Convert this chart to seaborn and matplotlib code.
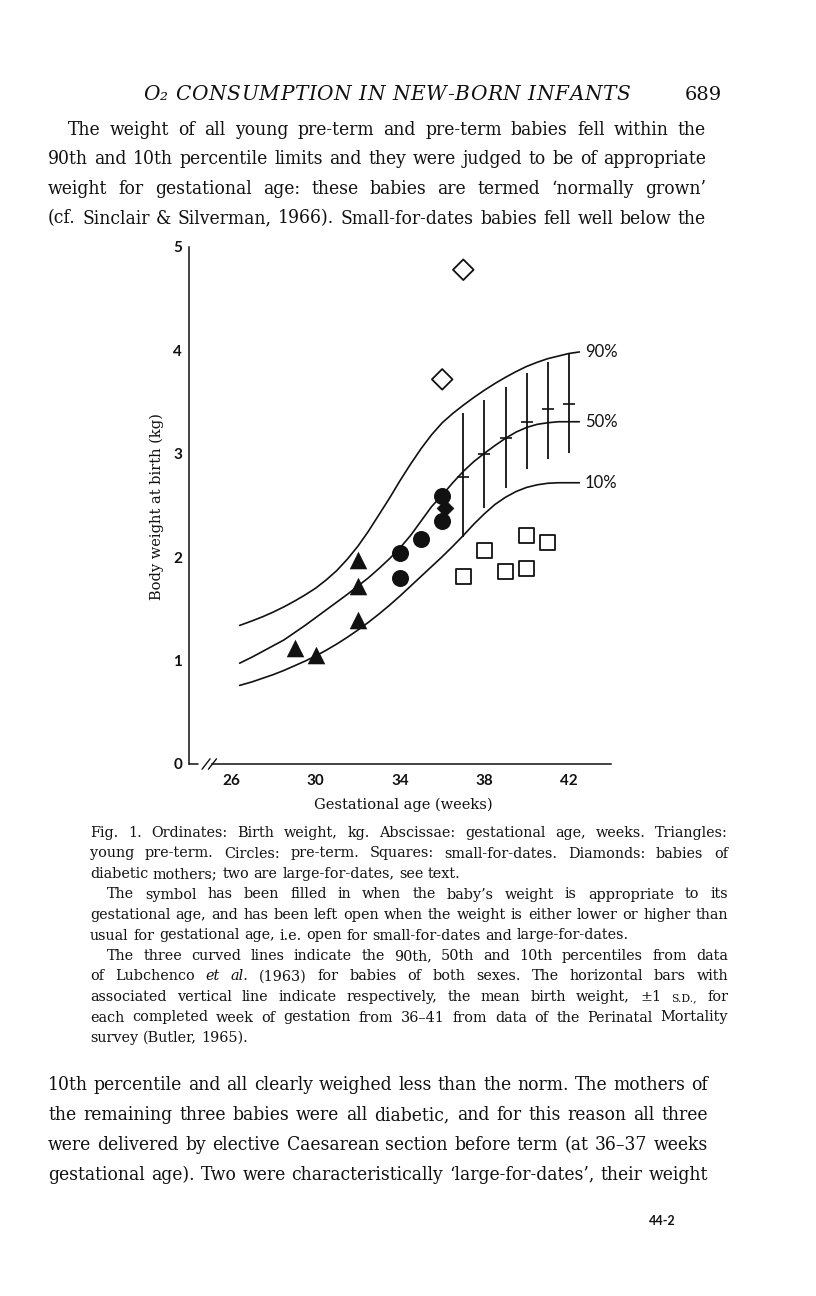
import matplotlib
matplotlib.use("Agg")
import matplotlib.pyplot as plt
import seaborn as sns

# --- data ---------------------------------------------------------------
# percentile curves (Lubchenco et al. 1963)
weeks = [26.4, 27, 27.5, 28, 28.5, 29, 29.5, 30, 30.5, 31, 31.5, 32, 32.5, 33,
         33.5, 34, 34.5, 35, 35.5, 36, 36.5, 37, 37.5, 38, 38.5, 39, 39.5, 40,
         40.5, 41, 41.5, 42, 42.5]
p90 = [1.34, 1.385, 1.425, 1.47, 1.52, 1.575, 1.635, 1.70, 1.78, 1.87, 1.98,
       2.105, 2.25, 2.41, 2.57, 2.74, 2.90, 3.05, 3.185, 3.30, 3.39, 3.47, 3.545,
       3.615, 3.68, 3.74, 3.795, 3.845, 3.885, 3.92, 3.945, 3.97, 3.985]
p50 = [0.975, 1.035, 1.09, 1.145, 1.20, 1.27, 1.34, 1.415, 1.49, 1.565, 1.64,
       1.72, 1.80, 1.89, 1.985, 2.09, 2.21, 2.35, 2.49, 2.60, 2.72, 2.83, 2.925,
       3.005, 3.08, 3.15, 3.21, 3.255, 3.285, 3.30, 3.31, 3.31, 3.31]
p10 = [0.76, 0.795, 0.83, 0.865, 0.905, 0.95, 0.995, 1.045, 1.10, 1.16, 1.225,
       1.295, 1.37, 1.45, 1.535, 1.625, 1.72, 1.815, 1.91, 2.005, 2.105, 2.21,
       2.32, 2.42, 2.51, 2.58, 2.635, 2.675, 2.70, 2.715, 2.72, 2.72, 2.72]
curve_labels = ["90%", "50%", "10%"]

# Perinatal Mortality survey (Butler 1965): mean and +/-1 s.d.
survey_weeks = [37, 38, 39, 40, 41, 42]
survey_mean = [2.78, 3.00, 3.15, 3.31, 3.43, 3.485]
survey_low = [2.20, 2.475, 2.67, 2.85, 2.95, 3.01]
survey_high = [3.39, 3.52, 3.65, 3.78, 3.885, 3.975]

# babies
tri_weeks = [29, 30, 32, 32, 32]            # young pre-term
tri_kg = [1.12, 1.055, 1.975, 1.72, 1.39]
circ_weeks = [34, 34, 35, 36, 36]           # pre-term
circ_kg = [2.04, 1.80, 2.18, 2.59, 2.35]
sq_weeks = [37, 38, 39, 40, 40, 41]         # small-for-dates
sq_kg = [1.81, 2.065, 1.86, 2.21, 1.89, 2.14]
dia_weeks_filled = [36.15]                  # diabetic mothers
dia_kg_filled = [2.475]
dia_weeks_open = [36, 37]
dia_kg_open = [3.72, 4.78]

xticks = list(range(26, 45, 2))
xtick_labels = ["26", "", "30", "", "34", "", "38", "", "42", ""]
yticks = [0, 1, 2, 3, 4, 5]

# --- page text ------------------------------------------------------------
header = "O\u2082 CONSUMPTION IN NEW-BORN INFANTS"
page_no = "689"
body_top = [
    ("The weight of all young pre-term and pre-term babies fell within the", 1, True),
    ("90th and 10th percentile limits and they were judged to be of appropriate", 0, True),
    ("weight for gestational age: these babies are termed \u2018normally grown\u2019", 0, True),
    ("(cf. Sinclair & Silverman, 1966). Small-for-dates babies fell well below the", 0, True),
]
caption = [
    ("Fig. 1. Ordinates: Birth weight, kg. Abscissae: gestational age, weeks. Triangles:", 0, True),
    ("young pre-term. Circles: pre-term. Squares: small-for-dates. Diamonds: babies of", 0, True),
    ("diabetic mothers; two are large-for-dates, see text.", 0, False),
    ("The symbol has been filled in when the baby\u2019s weight is appropriate to its", 1, True),
    ("gestational age, and has been left open when the weight is either lower or higher than", 0, True),
    ("usual for gestational age, i.e. open for small-for-dates and large-for-dates.", 0, False),
    ("The three curved lines indicate the 90th, 50th and 10th percentiles from data", 1, True),
    ("of Lubchenco *et *al. (1963) for babies of both sexes. The horizontal bars with", 0, True),
    ("associated vertical line indicate respectively, the mean birth weight, \u00b11 ^s.d., for", 0, True),
    ("each completed week of gestation from 36\u201341 from data of the Perinatal Mortality", 0, True),
    ("survey (Butler, 1965).", 0, False),
]
body_bottom = [
    ("10th percentile and all clearly weighed less than the norm. The mothers of", 0, True),
    ("the remaining three babies were all diabetic, and for this reason all three", 0, True),
    ("were delivered by elective Caesarean section before term (at 36\u201337 weeks", 0, True),
    ("gestational age). Two were characteristically \u2018large-for-dates\u2019, their weight", 0, True),
]
signature = "44-2"

W, H = 816, 1296
sns.set_theme(style="white")
fig = plt.figure(figsize=(W / 100, H / 100), dpi=100)
fig.patch.set_facecolor("white")
ax = fig.add_axes([189 / W, 1 - 764 / H, 422 / W, 517 / H])
ax.set_facecolor("white")

ink = "#111111"
for ys in (p90, p50, p10):
    sns.lineplot(x=weeks, y=ys, color=ink, lw=1.2, ax=ax, sort=False)
for ys, lab in zip((p90, p50, p10), curve_labels):
    ax.text(42.75, ys[-1], lab, fontsize=12, family="Lato", color=ink, va="center", ha="left")

ax.errorbar(survey_weeks, survey_mean,
            yerr=[[m - lo for m, lo in zip(survey_mean, survey_low)],
                  [hi - m for m, hi in zip(survey_mean, survey_high)]],
            fmt="_", ms=9, mew=1.2, color=ink, elinewidth=1.3, capsize=0)

sns.scatterplot(x=dia_weeks_filled, y=dia_kg_filled, marker="D", s=70, color=ink,
                edgecolor=ink, ax=ax, zorder=3)
sns.scatterplot(x=tri_weeks, y=tri_kg, marker="^", s=160, color=ink, edgecolor=ink,
                linewidth=0, ax=ax, zorder=4)
sns.scatterplot(x=circ_weeks, y=circ_kg, marker="o", s=150, color=ink, edgecolor=ink,
                linewidth=0, ax=ax, zorder=4)
sns.scatterplot(x=sq_weeks, y=sq_kg, marker="s", s=115, facecolor="none",
                edgecolor=ink, linewidth=1.3, ax=ax, zorder=4)
sns.scatterplot(x=dia_weeks_open, y=dia_kg_open, marker="D", s=110, facecolor="none",
                edgecolor=ink, linewidth=1.3, ax=ax, zorder=4)

ax.set_xlim(24, 44)
ax.set_ylim(0, 5)
ax.set_xticks(xticks)
ax.set_xticklabels(xtick_labels)
ax.set_yticks(yticks)
ax.set_yticklabels([str(v) for v in yticks])
ax.tick_params(direction="in", length=6.5, width=1.1, color=ink, labelcolor=ink)
ax.tick_params(axis="x", pad=7)
ax.tick_params(axis="y", pad=5)
for lab in ax.get_xticklabels() + ax.get_yticklabels():
    lab.set_family("Lato")
    lab.set_fontweight("bold")
    lab.set_fontsize(11)
for side in ("top", "right"):
    ax.spines[side].set_visible(False)
for side in ("left", "bottom"):
    ax.spines[side].set_color(ink)
    ax.spines[side].set_linewidth(1.1)
ax.spines["bottom"].set_bounds(25.1, 44)
# axis break
ax.plot([24, 24.45], [0, 0], color=ink, lw=1.1, clip_on=False)
ax.plot([24.62, 25.0], [-0.05, 0.05], color=ink, lw=1.0, clip_on=False)
ax.plot([24.92, 25.3], [-0.05, 0.05], color=ink, lw=1.0, clip_on=False)
ax.grid(False)

serif = "DejaVu Serif"
fig.text(157 / W, 1 - 507 / H, "Body weight at birth (kg)", rotation=90, family=serif,
         fontsize=10.5, color=ink, ha="center", va="center")
fig.text(403 / W, 1 - 805 / H, "Gestational age (weeks)", family=serif,
         fontsize=10.5, color=ink, ha="center", va="center")

# --- typesetting helpers ----------------------------------------------------
renderer = fig.canvas.get_renderer()


def space_of(size, family, style="normal", stretch="normal"):
    pair = []
    for s in ("a a", "aa"):
        t = fig.text(0, 0, s, fontsize=size, family=family, style=style, fontstretch=stretch)
        pair.append(t.get_window_extent(renderer).width)
        t.remove()
    return pair[0] - pair[1]


def make_words(s, size, y, family, stretch):
    arts = []
    for w in s.split(" "):
        st, sz = "normal", size
        if w.startswith("*"):
            w, st = w[1:], "italic"
        if w.startswith("^"):
            w, sz = w[1:].upper(), size * 0.76
        arts.append(fig.text(0, y, w, fontsize=sz, family=family, style=st,
                             fontstretch=stretch, color=ink, va="baseline"))
    return arts


def fit_size(lines, x0, x1, indent, family, stretch="normal"):
    sp = space_of(10, family, stretch=stretch)
    fits = []
    for s, ind, just in lines:
        if not just:
            continue
        arts = make_words(s, 10, 0, family, stretch)
        nat = sum(a.get_window_extent(renderer).width for a in arts) + sp * (len(arts) - 1)
        for a in arts:
            a.remove()
        fits.append((x1 - x0 - indent * ind) / nat)
    return 10 * min(fits) * 0.995


def set_block(lines, x0, x1, indent, y0, step, family, size, stretch="normal"):
    space = space_of(size, family, stretch=stretch)
    for i, (s, ind, just) in enumerate(lines):
        arts = make_words(s, size, 1 - (y0 + i * step) / H, family, stretch)
        widths = [a.get_window_extent(renderer).width for a in arts]
        start = x0 + indent * ind
        gap = (x1 - start - sum(widths)) / (len(arts) - 1) if just else space
        x = start
        for a, w in zip(arts, widths):
            a.set_x(x / W)
            x += w + gap


def track(s, x0, x1, y, size, family, style):
    arts, widths = [], []
    for ch in s:
        if ch == " ":
            arts.append(None)
            widths.append(space_of(size, family, style))
        else:
            t = fig.text(0, 1 - y / H, ch, fontsize=size, family=family, style=style,
                         color=ink, va="baseline")
            arts.append(t)
            widths.append(t.get_window_extent(renderer).width)
    gap = (x1 - x0 - sum(widths)) / (len(s) - 1)
    x = x0
    for a, w in zip(arts, widths):
        if a is not None:
            a.set_x(x / W)
        x += w + gap


track(header, 143, 630, 100, 14.5, serif, "italic")
fig.text(722 / W, 1 - 100 / H, page_no, fontsize=14, family=serif, color=ink,
         ha="right", va="baseline")
body_stretch = "condensed"
body_size = min(fit_size(body_top, 48, 706, 20, serif, body_stretch),
                fit_size(body_bottom, 48, 708, 20, serif, body_stretch))
set_block(body_top, 48, 706, 20, 135, 29.5, serif, body_size, body_stretch)
cap_size = fit_size(caption, 90, 728, 17, serif)
set_block(caption, 90, 728, 17, 837, 20.5, serif, cap_size)
set_block(body_bottom, 48, 708, 20, 1090, 30.0, serif, body_size, body_stretch)
fig.text(662 / W, 1 - 1221 / H, signature, fontsize=9, family="Lato", fontweight="bold",
         color=ink, ha="center", va="center")

fig.savefig("out.png", dpi=100, facecolor="white")
